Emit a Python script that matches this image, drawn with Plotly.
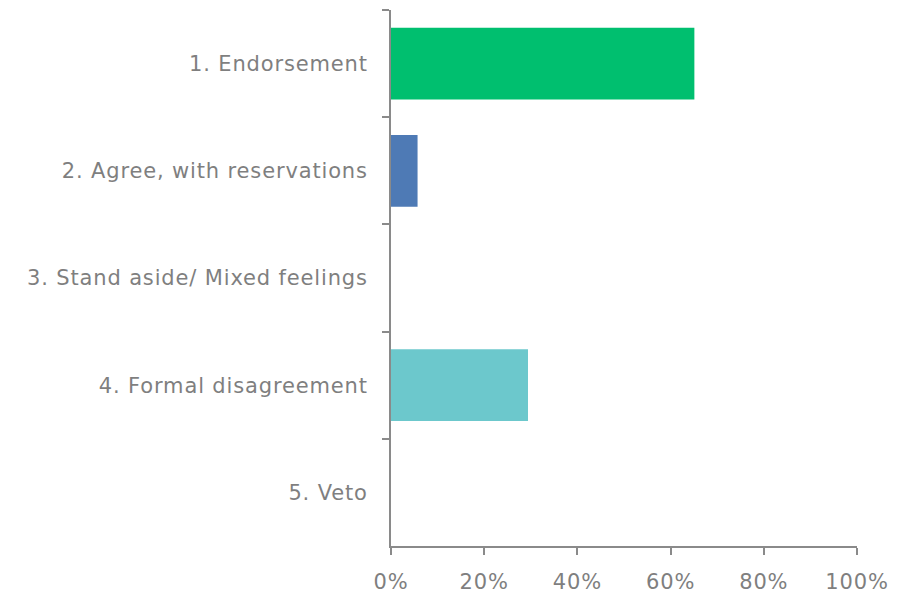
import plotly.graph_objects as go

categories = [
    "1. Endorsement",
    "2. Agree, with reservations",
    "3. Stand aside/ Mixed feelings",
    "4. Formal disagreement",
    "5. Veto",
]
shares = [65.1, 5.7, 0, 29.4, 0]
bar_colors = ["#00BF6F", "#4E7AB5", "#4E7AB5", "#6CC8CC", "#6CC8CC"]
x_ticks = [0, 20, 40, 60, 80, 100]
x_tick_labels = ["0%", "20%", "40%", "60%", "80%", "100%"]

axis_gray = "#8A8A8A"
text_gray = "#7F7F7F"
font_family = "DejaVu Sans, sans-serif"
label_size = 21

fig = go.Figure(
    go.Bar(
        x=shares,
        y=categories,
        orientation="h",
        marker=dict(color=bar_colors, line=dict(width=0)),
        hoverinfo="skip",
    )
)

fig.update_layout(
    width=910,
    height=593,
    margin=dict(l=391, r=53, t=10, b=47, autoexpand=False),
    paper_bgcolor="white",
    plot_bgcolor="white",
    bargap=0.33,
    showlegend=False,
    font=dict(family=font_family, size=label_size, color=text_gray),
)

fig.update_xaxes(
    range=[0, 100],
    tickvals=x_ticks,
    ticktext=x_tick_labels,
    showgrid=False,
    zeroline=False,
    showline=True,
    linecolor=axis_gray,
    linewidth=2,
    ticks="outside",
    ticklen=7,
    tickwidth=2,
    tickcolor=axis_gray,
    tickfont=dict(family=font_family, size=label_size, color=text_gray),
    ticklabelstandoff=9,
    automargin=False,
    fixedrange=True,
)

fig.update_yaxes(
    type="category",
    categoryorder="array",
    categoryarray=categories,
    autorange="reversed",
    showgrid=False,
    zeroline=False,
    showline=True,
    linecolor=axis_gray,
    linewidth=2,
    ticks="outside",
    tickson="boundaries",
    ticklen=7,
    tickwidth=2,
    tickcolor=axis_gray,
    tickfont=dict(family=font_family, size=label_size, color=text_gray),
    ticklabelstandoff=17,
    automargin=False,
    fixedrange=True,
)

# Slightly open up the tick-label tracking, as in the Office-style labels
tracking_js = """
document.querySelectorAll('.xtick text, .ytick text').forEach(function (t) {
  t.style.letterSpacing = '0.85px';
});
"""

fig.write_html("out.html", post_script=tracking_js)
